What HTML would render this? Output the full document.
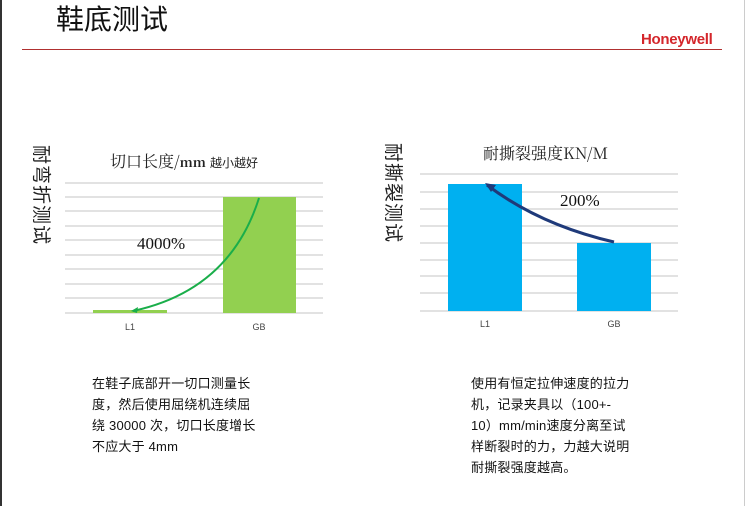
<!DOCTYPE html>
<html><head><meta charset="utf-8"><style>
body{margin:0;width:746px;height:506px;background:#fff;position:relative;overflow:hidden;font-family:"Liberation Sans","Noto Sans CJK SC",sans-serif;}
.a{position:absolute;white-space:nowrap;}
.vt{position:absolute;writing-mode:vertical-rl;text-orientation:sideways;font-size:19px;color:#222;letter-spacing:1px;font-family:"Noto Sans CJK SC",sans-serif;}
.p{position:absolute;font-size:13px;line-height:21px;color:#111;letter-spacing:0.2px;}
</style></head><body>
<div style="position:absolute;left:0;top:0;width:2px;height:506px;background:#333"></div>
<div style="position:absolute;right:1px;top:0;width:1px;height:506px;background:#ccc"></div>
<div class="a" style="left:56px;top:-2px;font-size:28px;font-family:'Noto Sans CJK SC',sans-serif;color:#111">鞋底测试</div>
<div class="a" style="left:641px;top:31px;font-size:15px;font-weight:bold;color:#d4262b;letter-spacing:-0.3px">Honeywell</div>
<div style="position:absolute;left:22px;top:49px;width:700px;height:1px;background:#b03030"></div>

<div class="vt" style="left:29px;top:145px">耐弯折测试</div>
<div class="vt" style="left:381px;top:143px">耐撕裂测试</div>

<svg class="a" style="left:0;top:0" width="746" height="506">
<g stroke="#d0d0d0" stroke-width="1.2">
<line x1="65" x2="323" y1="183" y2="183"/><line x1="65" x2="323" y1="197" y2="197"/><line x1="65" x2="323" y1="211" y2="211"/><line x1="65" x2="323" y1="226" y2="226"/><line x1="65" x2="323" y1="240" y2="240"/><line x1="65" x2="323" y1="255" y2="255"/><line x1="65" x2="323" y1="269" y2="269"/><line x1="65" x2="323" y1="284" y2="284"/><line x1="65" x2="323" y1="298" y2="298"/><line x1="65" x2="323" y1="313" y2="313"/>
<line x1="420" x2="678" y1="174" y2="174"/><line x1="420" x2="678" y1="192" y2="192"/><line x1="420" x2="678" y1="209" y2="209"/><line x1="420" x2="678" y1="226" y2="226"/><line x1="420" x2="678" y1="243" y2="243"/><line x1="420" x2="678" y1="260" y2="260"/><line x1="420" x2="678" y1="276" y2="276"/><line x1="420" x2="678" y1="293" y2="293"/><line x1="420" x2="678" y1="311" y2="311"/>
</g>
<rect x="93" y="310" width="74" height="3" fill="#92d050"/>
<rect x="223" y="197" width="73" height="116" fill="#92d050"/>
<rect x="448" y="184" width="74" height="127" fill="#00b0f0"/>
<rect x="577" y="243" width="74" height="68" fill="#00b0f0"/>
<path d="M259 198 Q230 290 133 311" fill="none" stroke="#1aae4a" stroke-width="2"/>
<path d="M131 311 l7 -4 l-1 6 z" fill="#1aae4a"/>
<path d="M614 242 Q540 225 487 185" fill="none" stroke="#1f3a7a" stroke-width="3"/>
<path d="M485 183 l11 2 l-5 7 z" fill="#1f3a7a"/>
<g font-family="Liberation Serif,serif" fill="#111">
<text x="137" y="249" font-size="17">4000%</text>
<text x="560" y="206" font-size="17">200%</text>
</g>
<g font-size="9" fill="#444" font-family="Liberation Sans,sans-serif" text-anchor="middle">
<text x="130" y="330">L1</text><text x="259" y="330">GB</text>
<text x="485" y="327">L1</text><text x="614" y="327">GB</text>
</g>
</svg>
<div class="a" style="left:110px;top:149px;font-size:16px;font-family:'Noto Serif CJK SC',serif;color:#222">切口长度/<b style="font-size:13px">mm</b> <span style="font-size:12px;font-family:'Noto Sans CJK SC',sans-serif">越小越好</span></div>
<div class="a" style="left:483px;top:141px;font-size:16px;font-family:'Noto Serif CJK SC',serif;color:#222">耐撕裂强度KN/M</div>

<div class="p" style="left:92px;top:373px">在鞋子底部开一切口测量长<br>度，然后使用屈绕机连续屈<br>绕 30000 次，切口长度增长<br>不应大于 4mm</div>
<div class="p" style="left:471px;top:373px">使用有恒定拉伸速度的拉力<br>机，记录夹具以（100+-<br>10）mm/min速度分离至试<br>样断裂时的力，力越大说明<br>耐撕裂强度越高。</div>
</body></html>
